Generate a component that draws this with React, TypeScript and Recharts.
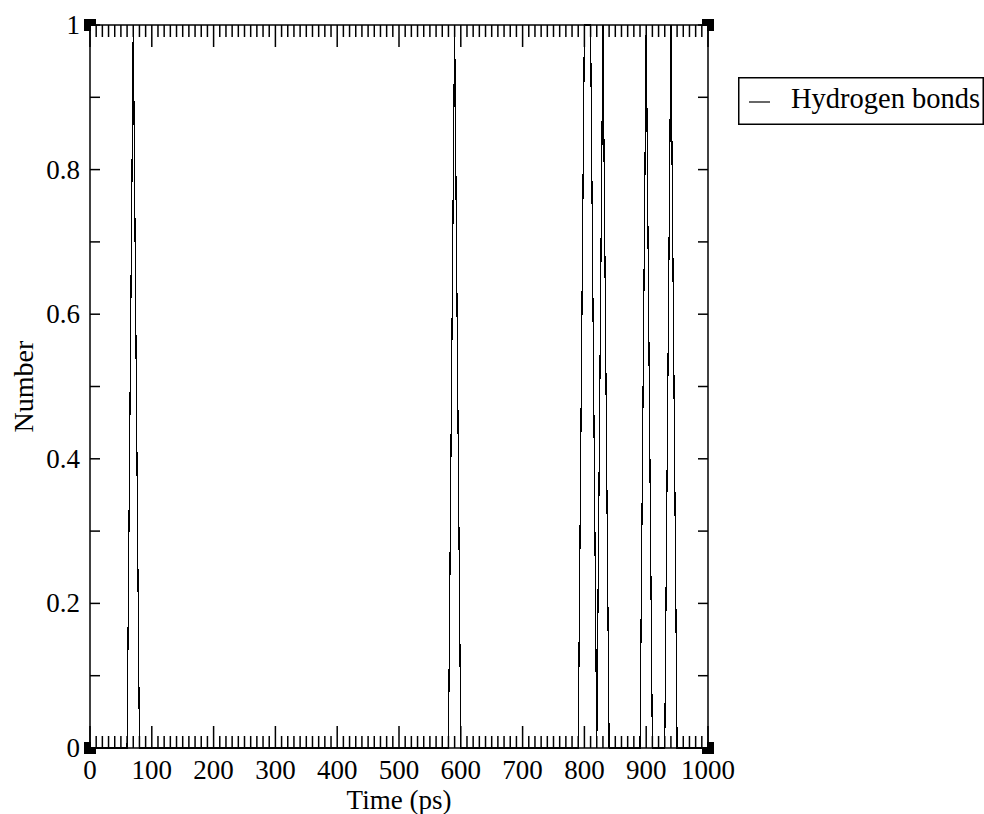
import { ComposedChart, Line, Scatter, XAxis, YAxis, Legend } from "recharts";

const FONT = "Liberation Serif, Times New Roman, DejaVu Serif, serif";
const PLOT_TOP = 25;

// hbnum output: time (ps) vs number of hydrogen bonds
const times = [0, 60, 70, 80, 580, 590, 600, 790, 800, 810, 820, 830, 840, 890, 900, 910, 930, 940, 950, 1000];
const bonds = [0, 0, 1, 0, 0, 1, 0, 0, 1, 1, 0, 1, 0, 0, 1, 0, 0, 1, 0, 0];

// square markers sitting on the frame corners
const cornerTimes = [0, 0, 1000, 1000];
const cornerValues = [0, 1, 0, 1];

const xMajorTicks = [0, 100, 200, 300, 400, 500, 600, 700, 800, 900, 1000];
const xMinorPerMajor = 10;
const yMajorTicks = [0, 0.2, 0.4, 0.6, 0.8, 1];
const yMinorTicks = [0.1, 0.3, 0.5, 0.7, 0.9];

const seriesName = "Hydrogen bonds";
const xTitle = "Time (ps)";
const yTitle = "Number";

const lineData = times.map((t, i) => ({ t, n: bonds[i] }));
const cornerData = cornerTimes.map((t, i) => ({ t, n: cornerValues[i] }));

const xStep = (xMajorTicks[1] - xMajorTicks[0]) / xMinorPerMajor;
const xTicks = xMajorTicks.flatMap((m, i) =>
  i === xMajorTicks.length - 1 ? [m] : Array.from({ length: xMinorPerMajor }, (_, k) => m + k * xStep)
);
const yTicks = [...yMajorTicks, ...yMinorTicks].sort((a, b) => a - b);

const isXMajor = (v: number) => xMajorTicks.includes(v);

const textStyle = { fontFamily: FONT };

// bottom axis tick also draws its mirror on the top frame (grace style, inward)
function BottomTick(props: any) {
  const { x, y, payload } = props;
  const len = isXMajor(payload.value) ? 22 : 12;
  return (
    <g>
      <line x1={x} y1={y} x2={x} y2={y - len} stroke="#000" strokeWidth={1.5} />
      <line x1={x} y1={PLOT_TOP} x2={x} y2={PLOT_TOP + len} stroke="#000" strokeWidth={1.5} />
      {isXMajor(payload.value) && (
        <text x={x} y={y + 31} textAnchor="middle" fontSize={27} style={textStyle} fill="#000">
          {payload.value}
        </text>
      )}
    </g>
  );
}

function LeftTick(props: any) {
  const { x, y, payload } = props;
  const major = yMajorTicks.includes(payload.value);
  return (
    <g>
      <line x1={x} y1={y} x2={x + 10} y2={y} stroke="#000" strokeWidth={1.5} />
      {major && (
        <text x={x - 10} y={y + 9} textAnchor="end" fontSize={27} style={textStyle} fill="#000">
          {String(payload.value)}
        </text>
      )}
    </g>
  );
}

function RightTick(props: any) {
  const { x, y } = props;
  return <line x1={x} y1={y} x2={x - 10} y2={y} stroke="#000" strokeWidth={1.5} />;
}

function XTitle(props: any) {
  const vb = props.viewBox;
  return (
    <text x={vb.x + vb.width / 2} y={vb.y + 61} textAnchor="middle" fontSize={27} style={textStyle} fill="#000">
      {xTitle}
    </text>
  );
}

function YTitle(props: any) {
  const vb = props.viewBox;
  const cx = vb.x + 33;
  const cy = vb.y + vb.height / 2;
  return (
    <text
      x={cx}
      y={cy}
      transform={`rotate(-90, ${cx}, ${cy})`}
      textAnchor="middle"
      fontSize={28}
      style={textStyle}
      fill="#000"
    >
      {yTitle}
    </text>
  );
}

function CornerMark(props: any) {
  const { cx, cy, payload } = props;
  const inRight = payload.t === cornerTimes[0];
  const inDown = payload.n === 1;
  return (
    <g>
      <rect x={cx - 6} y={cy - 6} width={12} height={12} fill="#000" />
      <rect x={inRight ? cx + 1 : cx - 6} y={inDown ? cy + 1 : cy - 6} width={5} height={5} fill="#fff" />
    </g>
  );
}

function LegendBox() {
  return (
    <svg width={246} height={48} style={{ display: "block" }}>
      <rect x={0.75} y={0.75} width={244.5} height={46.5} fill="#fff" stroke="#000" strokeWidth={1.5} />
      <line x1={11} y1={25} x2={32} y2={25} stroke="#000" strokeWidth={1.2} />
      <text x={53} y={31} fontSize={28.5} style={textStyle} fill="#000">
        {seriesName}
      </text>
    </svg>
  );
}

export default function App() {
  const axisLine = { stroke: "#000", strokeWidth: 1.5 };
  return (
    <div style={{ position: "absolute", left: 0, top: 0, width: 984, height: 814, background: "#fff" }}>
      <ComposedChart width={984} height={814} margin={{ top: PLOT_TOP - 1, right: 275, bottom: 0, left: 0 }}>
        <XAxis
          dataKey="t"
          type="number"
          domain={[0, 1000]}
          ticks={xTicks}
          interval={0}
          height={66}
          tickSize={0}
          tickMargin={0}
          tickLine={false}
          axisLine={axisLine}
          tick={<BottomTick />}
          label={{ value: xTitle, content: <XTitle /> }}
        />
        <XAxis
          xAxisId="top"
          orientation="top"
          type="number"
          domain={[0, 1000]}
          allowDataOverflow
          height={1}
          tickLine={false}
          axisLine={axisLine}
          tick={false}
        />
        <YAxis
          type="number"
          domain={[0, 1]}
          ticks={yTicks}
          interval={0}
          width={90}
          tickSize={0}
          tickMargin={0}
          tickLine={false}
          axisLine={axisLine}
          tick={<LeftTick />}
          label={{ value: yTitle, content: <YTitle /> }}
        />
        <YAxis
          yAxisId="right"
          orientation="right"
          type="number"
          domain={[0, 1]}
          allowDataOverflow
          ticks={yTicks}
          interval={0}
          width={1}
          tickSize={0}
          tickMargin={0}
          tickLine={false}
          axisLine={axisLine}
          tick={<RightTick />}
        />
        <Legend
          layout="horizontal"
          verticalAlign="middle"
          align="center"
          wrapperStyle={{ left: 738, top: 77, width: 246, height: 48 }}
          content={() => <LegendBox />}
        />
        <Line
          data={lineData}
          dataKey="n"
          name={seriesName}
          type="linear"
          stroke="#000"
          strokeWidth={1.2}
          dot={false}
          activeDot={false}
          shapeRendering="crispEdges"
          isAnimationActive={false}
        />
        <Scatter
          data={cornerData}
          dataKey="n"
          legendType="none"
          shape={<CornerMark />}
          isAnimationActive={false}
        />
      </ComposedChart>
    </div>
  );
}
